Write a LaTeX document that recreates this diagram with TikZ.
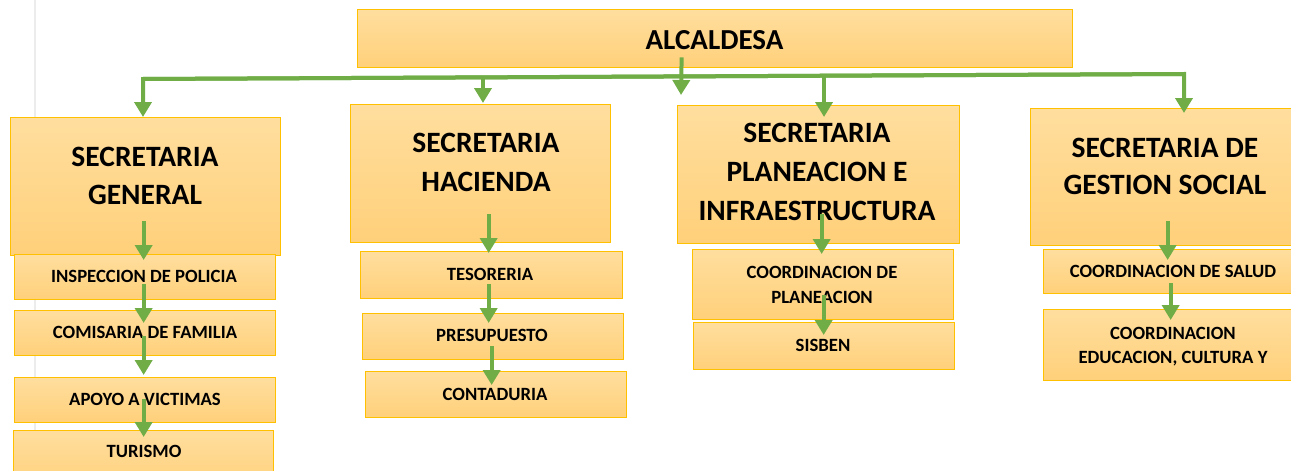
\documentclass[tikz,border=0pt]{standalone}
\usepackage{fontspec}
\setmainfont{Carlito}
\usetikzlibrary{arrows.meta,calc}
\definecolor{gold}{HTML}{FFC000}
\definecolor{boxtop}{RGB}{255,222,158}
\definecolor{boxbot}{RGB}{255,208,122}
\definecolor{grn}{HTML}{70AD47}
\tikzset{
 box/.style={draw=gold, line width=1.3pt, top color=boxtop, bottom color=boxbot, anchor=north west, inner sep=0pt},
 big/.style={font=\fontsize{29.5}{34}\selectfont\bfseries, anchor=base, inner sep=0pt},
 head/.style={font=\fontsize{29}{34}\selectfont\bfseries, anchor=base, inner sep=0pt},
 small/.style={font=\fontsize{18.7}{22}\selectfont\bfseries, anchor=base, inner sep=0pt},
 arr/.style={draw=grn, line width=4pt, -{Triangle[width=17pt,length=15pt]}},
}
\begin{document}
\begin{tikzpicture}[x=1pt,y=-1pt]
\useasboundingbox (0,0) rectangle (1291,471);
\clip (0,0) rectangle (1291,471);
\draw[gray!15, line width=1.5pt] (35,0) -- (35,471);
% top
\node[box, minimum width=715, minimum height=58] (alc) at (357,9) {};
\node[head] (alc-t) at (714.5,49) {ALCALDESA};
% column 1
\node[box, minimum width=270, minimum height=138] (sg) at (10,117) {};
\node[box, minimum width=261, minimum height=45] (insp) at (14,254) {};
\node[box, minimum width=261, minimum height=45] (comi) at (14,310) {};
\node[box, minimum width=261, minimum height=45] (apoyo) at (14,377) {};
\node[box, minimum width=260, minimum height=60] (tur) at (13,430) {};
\node[big] (sg-1) at (145,166.5) {SECRETARIA};
\node[big] (sg-2) at (145,204.5) {GENERAL};
\node[small] (insp-t) at (144,282) {INSPECCION DE POLICIA};
\node[small] (comi-t) at (145,338) {COMISARIA DE FAMILIA};
\node[small] (apoyo-t) at (145,405) {APOYO A VICTIMAS};
\node[small] (tur-t) at (144,457) {TURISMO};
% column 2
\node[box, minimum width=260, minimum height=138] (sh) at (350,104) {};
\node[box, minimum width=262, minimum height=47] (teso) at (360,251) {};
\node[box, minimum width=261, minimum height=46] (pres) at (362,313) {};
\node[box, minimum width=261, minimum height=46] (cont) at (365,371) {};
\node[big] (sh-1) at (486,152.5) {SECRETARIA};
\node[big] (sh-2) at (486,191.5) {HACIENDA};
\node[small] (teso-t) at (490,280) {TESORERIA};
\node[small] (pres-t) at (492,341) {PRESUPUESTO};
\node[small] (cont-t) at (495,400) {CONTADURIA};
% column 3
\node[box, minimum width=282, minimum height=138] (sp) at (677,105) {};
\node[box, minimum width=261, minimum height=70] (cpl) at (692,249) {};
\node[box, minimum width=261, minimum height=47] (sis) at (693,322) {};
\node[big] (sp-1) at (817,142.5) {SECRETARIA};
\node[big] (sp-2) at (817,181.5) {PLANEACION E};
\node[big] (sp-3) at (817,220.5) {INFRAESTRUCTURA};
\node[small] (cpl-1) at (822,278) {COORDINACION DE};
\node[small] (cpl-2) at (822,303) {PLANEACION};
\node[small] (sis-t) at (823,351) {SISBEN};
% column 4
\node[box, minimum width=265, minimum height=137] (ss) at (1030,108) {};
\node[box, minimum width=255, minimum height=44] (csal) at (1043,249) {};
\node[box, minimum width=255, minimum height=71] (cedu) at (1043,309) {};
\node[big] (ss-1) at (1165,157.5) {SECRETARIA DE};
\node[big] (ss-2) at (1165,194.5) {GESTION SOCIAL};
\node[small] (csal-t) at (1173,277) {COORDINACION DE SALUD};
\node[small] (cedu-1) at (1173,339) {COORDINACION};
\node[small] (cedu-2) at (1173,363) {EDUCACION, CULTURA Y};
% connectors
\coordinate (hl-l) at (143,79);
\coordinate (hl-r) at (1184,74);
\coordinate (b2) at ($(hl-l)!0.3266!(hl-r)$);
\coordinate (b3) at ($(hl-l)!0.6542!(hl-r)$);
\coordinate (tipA) at (681,95);
\draw[arr] (hl-r) -- (hl-l) -- (hl-l |- sg.north);
\draw[arr] (hl-l) -- (hl-r) -- ($(hl-r |- ss.north)+(0,5)$);
\draw[arr] (b2) -- ($(b2 |- sh.north)+(0,-1)$);
\draw[arr] (b3) -- ($(b3 |- sp.north)+(0,12)$);
\draw[arr] ($(alc.south)+(-33.5,-11)$) -- (tipA);
% column 1 arrows
\draw[arr] ($(sg.south)+(-2,-35)$) -- ($(sg.south |- insp.north)+(-2,6)$);
\draw[arr] ($(insp.south)+(-1.5,-16)$) -- ($(insp.south |- comi.north)+(-1.5,13)$);
\draw[arr] ($(comi.south)+(-1.5,-20)$) -- ($(comi.south |- apoyo.north)+(-1.5,-2)$);
\draw[arr] ($(apoyo.south)+(-1.5,-24)$) -- ($(apoyo.south |- tur.north)+(-1.5,7)$);
% column 2 arrows
\draw[arr] ($(sh.south)+(8,-29)$) -- ($(sh.south |- teso.north)+(8,2)$);
\draw[arr] ($(teso.south)+(-3,-15)$) -- ($(teso.south |- pres.north)+(-3,10)$);
\draw[arr] ($(pres.south)+(-1.5,-14)$) -- ($(pres.south |- cont.north)+(-1.5,14)$);
% column 3 arrows
\draw[arr] ($(sp.south)+(3,-30)$) -- ($(sp.south |- cpl.north)+(3,5)$);
\draw[arr] ($(cpl.south)+(0.5,-25)$) -- ($(cpl.south |- sis.north)+(0.5,13)$);
% column 4 arrows
\draw[arr] ($(ss.south)+(4.5,-25)$) -- ($(ss.south |- csal.north)+(4.5,11)$);
\draw[arr] ($(csal.south)+(-0.5,-11)$) -- ($(csal.south |- cedu.north)+(-0.5,11)$);
\end{tikzpicture}
\end{document}
